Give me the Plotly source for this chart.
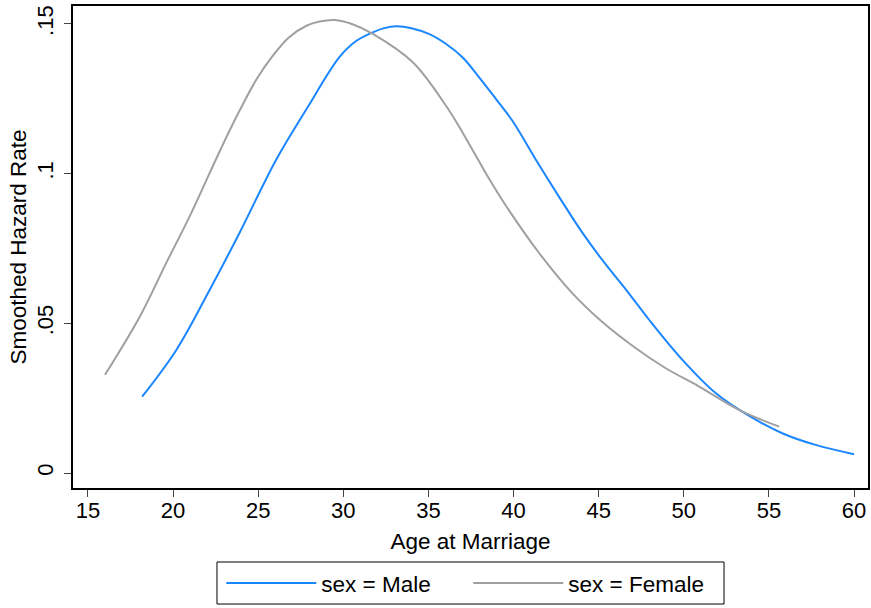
import plotly.graph_objects as go

# Data
male_age = [18.18, 20.2, 22.16, 23.9, 26.07, 27.83, 29.78, 30.75, 31.73, 32.4, 33.1, 34.0,
            35.06, 36.04, 37.01, 37.99, 38.97, 39.94, 41.41, 42.7, 44.05, 45.3, 46.6, 47.96,
            49.92, 51.87, 53.43, 55.78, 57.74, 60.0]
male_hazard = [0.0255, 0.0412, 0.0613, 0.0802, 0.1048, 0.1215, 0.1390, 0.1443, 0.1472, 0.1486,
               0.1492, 0.1486, 0.1466, 0.1433, 0.1388, 0.1321, 0.1249, 0.1176, 0.1037, 0.0920,
               0.0802, 0.0705, 0.0613, 0.0512, 0.0378, 0.0267, 0.0205, 0.0133, 0.0094, 0.0063]

female_age = [16.0, 18.05, 19.6, 20.98, 22.78, 23.9, 24.9, 25.87, 26.8, 27.83, 28.6, 29.49,
              30.5, 31.73, 34.08, 36.04, 37.01, 38.58, 39.56, 41.5, 43.46, 45.2, 47.1, 48.94,
              50.9, 53.24, 55.6]
female_hazard = [0.0328, 0.0523, 0.0702, 0.0858, 0.108, 0.121, 0.1315, 0.1395, 0.1455, 0.1494,
                 0.1508, 0.1513, 0.1500, 0.1467, 0.1372, 0.1226, 0.1137, 0.0981, 0.0892, 0.0735,
                 0.0600, 0.0505, 0.042, 0.035, 0.0289, 0.0211, 0.0155]

x_ticks = [15, 20, 25, 30, 35, 40, 45, 50, 55, 60]
y_ticks = [0, 0.05, 0.10, 0.15]
y_tick_labels = ["0", ".05", ".1", ".15"]

FONT = "Liberation Sans, Arial, sans-serif"
FS = 22
FS_T = 22.5

fig = go.Figure()
fig.add_trace(go.Scatter(x=male_age, y=male_hazard, mode="lines", name="sex = Male",
                         line=dict(color="#1a86ff", width=2, shape="spline", smoothing=1.0)))
fig.add_trace(go.Scatter(x=female_age, y=female_hazard, mode="lines", name="sex = Female",
                         line=dict(color="#a0a0a0", width=2, shape="spline", smoothing=1.0)))

# legend frame (drawn as a shape to get Stata-like padding)
fig.add_shape(type="rect", xref="paper", yref="paper",
              x0=0.1811, x1=0.8189, y0=-0.2407, y1=-0.1535,
              line=dict(color="black", width=1), fillcolor="rgba(0,0,0,0)", layer="above")

fig.update_layout(
    width=871, height=608,
    margin=dict(l=73, r=3, t=6, b=120),
    paper_bgcolor="white", plot_bgcolor="white",
    font=dict(family=FONT, size=FS, color="black"),
    showlegend=True,
    legend=dict(orientation="h", x=0.1865, xanchor="left", y=-0.1535, yanchor="top",
                borderwidth=0, bgcolor="rgba(0,0,0,0)",
                font=dict(size=FS_T), itemwidth=90, entrywidth=142, traceorder="normal"),
    xaxis=dict(range=[14.12, 60.82], tickvals=x_ticks, ticks="outside", ticklen=7,
               tickcolor="#444", showline=True, linecolor="black", linewidth=2, mirror=True,
               showgrid=False, zeroline=False, automargin=False, ticklabelstandoff=-5,
               title=dict(text="Age at Marriage", standoff=11, font=dict(size=FS_T))),
    yaxis=dict(range=[-0.005, 0.156], tickvals=y_ticks, ticktext=y_tick_labels, tickangle=-90,
               ticks="outside", ticklen=7, tickcolor="#444", showline=True, linecolor="black",
               linewidth=2, mirror=True, showgrid=False, zeroline=False, automargin=False,
               ticklabelstandoff=2,
               title=dict(text="Smoothed Hazard Rate", standoff=0, font=dict(size=FS_T))),
)

fig.write_html("out.html", config={"displayModeBar": False},
               post_script="document.body.style.margin='0';")
